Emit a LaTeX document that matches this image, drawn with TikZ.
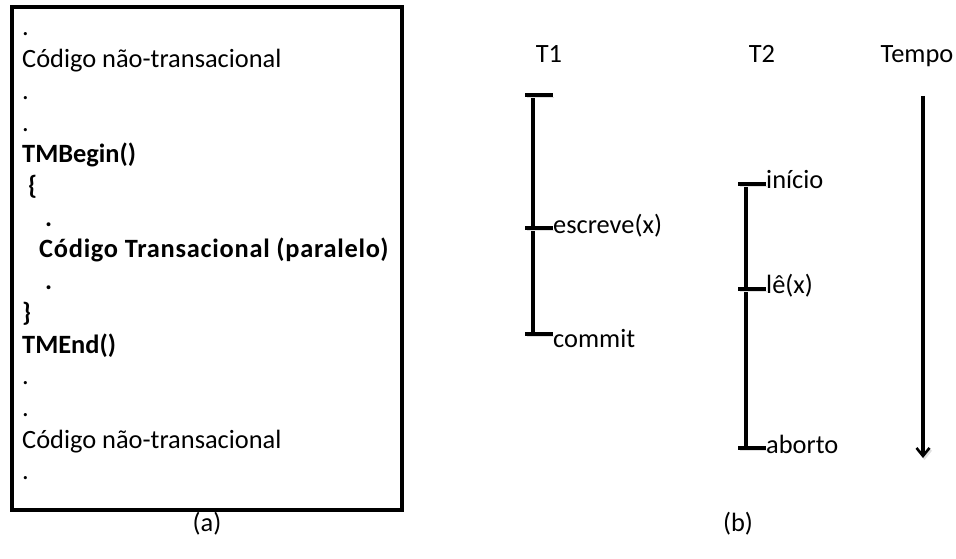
\documentclass[tikz,border=0pt]{standalone}
\usepackage{fontspec}
\setmainfont{Carlito}
\usepackage{tikz}
\usetikzlibrary{positioning, arrows.meta, calc}

\newcommand{\txtsize}{\fontsize{26.4}{31.7}\selectfont}

\begin{document}
\begin{tikzpicture}[
                x=1pt, y=-1pt,
                txt/.style={font=\txtsize, inner sep=0pt, anchor=base west},
                title/.style={font=\txtsize, inner sep=0pt, anchor=base},
                shade/.style={preaction={draw=black!12, transform canvas={shift={(1.5,2)}}}},
                timeline/.style={line width=3.2pt, shade},
                tick/.style={line width=3.2pt, shade},
                evlabel/.style={font=\txtsize, inner sep=0pt, anchor=base west}
            ]
            \useasboundingbox (0,0) rectangle (956,559);

            % (a) Codigo
            \draw[line width=3.2pt] (12,7) rectangle (402,510);
            \foreach \txt/\ind/\fnt [count=\i] in {./0/\mdseries, Código não-transacional/0/\mdseries,
                    ./0/\mdseries, ./0/\mdseries, TMBegin()/0/\bfseries, \{/6/\bfseries,
                    ./23/\bfseries, {\addfontfeature{LetterSpace=2.8}Código Transacional (paralelo)}/17/\bfseries,
                    ./23/\bfseries, \}/0/\bfseries, TMEnd()/0/\bfseries, ./0/\mdseries, ./0/\mdseries,
                    Código não-transacional/0/\mdseries, ./0/\mdseries}
                \node[txt, font=\txtsize\fnt] (c\i) at ({22+\ind}, {36+31.7*(\i-1)}) {\txt};
            \node[title] (capa) at (207,531) {(a)};

            % (b) Linhas de tempo
            \node[title] (T1) at (549,63) {T1};
            \node[title] (T2) at (762,63) {T2};
            \node[title] (tempo) at (917,63) {Tempo};

            \coordinate (t1a) at (533,95);
            \coordinate (t1b) at (533,228);
            \coordinate (t1c) at (533,334);
            \coordinate (t2a) at (746,184);
            \coordinate (t2b) at (746,289);
            \coordinate (t2c) at (746,448);
            \coordinate (tpa) at (923,96);
            \coordinate (tpb) at (923,458);

            \draw[timeline] (t1a) -- (t1c);
            \draw[timeline] (t2a) -- (t2c);
            \foreach \c in {t1a, t1b, t1c, t2a, t2b, t2c}
                \draw[tick] ([xshift=-8pt]\c) -- ([xshift=19.5pt]\c);

            \node[evlabel] (esc) at ([xshift=20pt, yshift=-5pt]t1b) {escreve(x)};
            \node[evlabel] (com) at ([xshift=20pt, yshift=-13pt]t1c) {commit};
            \node[evlabel] (ini) at ([xshift=20pt, yshift=-5pt]t2a) {início};
            \node[evlabel] (le) at ([xshift=20pt, yshift=-4pt]t2b) {lê(x)};
            \node[evlabel] (abo) at ([xshift=20pt, yshift=-5pt]t2c) {aborto};

            \draw[timeline, -{Straight Barb[length=8pt, width=13pt, line width=2.6pt]}] (tpa) -- (tpb);
            \node[title] (capb) at (738,531) {(b)};

        \end{tikzpicture}
\end{document}
